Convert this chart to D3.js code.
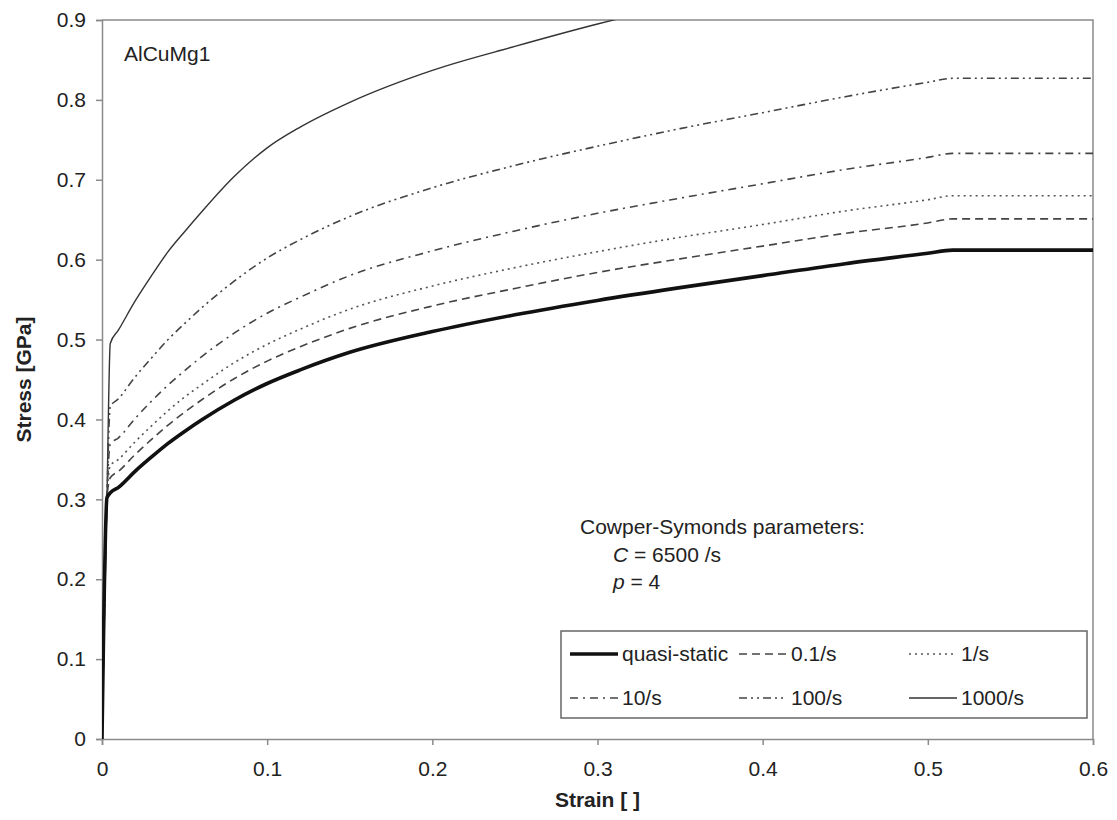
<!DOCTYPE html>
<html>
<head>
<meta charset="utf-8">
<script src="https://cdn.jsdelivr.net/npm/d3@7"></script>
<style>
  body { margin: 0; background: #fff; }
  text { font-family: "Liberation Sans", Arial, sans-serif; fill: #222; }
</style>
</head>
<body>
<script>
// strain points shared by every curve
var strain = [0, 0.003, 0.005, 0.01, 0.02, 0.03, 0.04, 0.05, 0.06, 0.08, 0.1, 0.12, 0.15, 0.2, 0.25, 0.3, 0.35, 0.4, 0.45, 0.5, 0.515, 0.6];

var quasiStatic = [0, 0.302, 0.308, 0.315, 0.335, 0.353, 0.37, 0.385, 0.399, 0.424, 0.445, 0.462, 0.484, 0.51, 0.531, 0.549, 0.565, 0.58, 0.595, 0.608, 0.612, 0.612];
var rate01 = [0, 0.302, 0.327, 0.335, 0.356, 0.375, 0.393, 0.409, 0.424, 0.451, 0.473, 0.491, 0.514, 0.542, 0.564, 0.584, 0.601, 0.617, 0.633, 0.646, 0.651, 0.651];
var rate1 = [0, 0.302, 0.342, 0.35, 0.372, 0.392, 0.411, 0.428, 0.443, 0.471, 0.494, 0.513, 0.538, 0.567, 0.59, 0.61, 0.628, 0.644, 0.661, 0.675, 0.68, 0.68];
var rate10 = [0, 0.302, 0.369, 0.377, 0.401, 0.423, 0.443, 0.461, 0.478, 0.508, 0.533, 0.553, 0.58, 0.611, 0.636, 0.658, 0.677, 0.695, 0.713, 0.728, 0.733, 0.733];
var rate100 = [0, 0.302, 0.416, 0.426, 0.453, 0.477, 0.5, 0.52, 0.539, 0.573, 0.602, 0.625, 0.654, 0.69, 0.718, 0.742, 0.764, 0.784, 0.804, 0.822, 0.827, 0.827];
var rate1000 = [0, 0.302, 0.495, 0.512, 0.548, 0.58, 0.61, 0.635, 0.659, 0.704, 0.74, 0.766, 0.797, 0.837, 0.867, 0.895, 0.92, 0.944, 0.966, 0.985, 0.995, 0.995];

var labels = ['quasi-static', '0.1/s', '1/s', '10/s', '100/s', '1000/s'];
var xTicks = [0, 0.1, 0.2, 0.3, 0.4, 0.5, 0.6];
var yTicks = [0, 0.1, 0.2, 0.3, 0.4, 0.5, 0.6, 0.7, 0.8, 0.9];

var width = 1117,
    height = 820,
    plotL = 102,
    plotR = 1093,
    plotT = 20,
    plotB = 739;

var styles = [
    {width: 3.6, dash: null, color: '#111'},
    {width: 1.6, dash: '8,5', color: '#444'},
    {width: 1.6, dash: '2,4', color: '#555'},
    {width: 1.6, dash: '8,5,2,5', color: '#444'},
    {width: 1.6, dash: '8,4,2,4,2,4', color: '#444'},
    {width: 1.4, dash: null, color: '#333'}
];

var series = [quasiStatic, rate01, rate1, rate10, rate100, rate1000].map(function(vals, i) {
    return {
        name: labels[i],
        style: styles[i],
        points: strain.map(function(s, j) { return [s, vals[j]]; })
    };
});

var x = d3.scaleLinear().domain([0, 0.6]).range([plotL, plotR]);
var y = d3.scaleLinear().domain([0, 0.9]).range([plotB, plotT]);

var svg = d3.select('body').append('svg')
    .attr('width', width)
    .attr('height', height);

svg.append('defs').append('clipPath')
    .attr('id', 'plot')
    .append('rect')
    .attr('x', plotL)
    .attr('y', plotT)
    .attr('width', plotR - plotL)
    .attr('height', plotB - plotT);

// frame (top & right)
svg.append('path')
    .attr('d', 'M' + plotL + ',' + plotT + 'H' + plotR + 'V' + plotB)
    .attr('fill', 'none')
    .attr('stroke', '#8a8a8a')
    .attr('stroke-width', 1.5);

var fmt = function(d) { return d === 0 ? '0' : d3.format('.1f')(d); };

var xAxis = svg.append('g')
    .attr('transform', 'translate(0,' + plotB + ')')
    .call(d3.axisBottom(x).tickValues(xTicks).tickSize(6).tickPadding(16).tickFormat(fmt));

var yAxis = svg.append('g')
    .attr('transform', 'translate(' + plotL + ',0)')
    .call(d3.axisLeft(y).tickValues(yTicks).tickSize(6).tickPadding(10).tickFormat(fmt));

[xAxis, yAxis].forEach(function(g) {
    g.select('.domain').attr('stroke', '#8a8a8a').attr('stroke-width', 1.5);
    g.selectAll('.tick line').attr('stroke', '#8a8a8a').attr('stroke-width', 1.5);
    g.selectAll('.tick text')
        .style('font-family', '"Liberation Sans", Arial, sans-serif')
        .style('font-size', '21px')
        .attr('fill', '#222');
});

var line = d3.line()
    .x(function(d) { return x(d[0]); })
    .y(function(d) { return y(d[1]); })
    .curve(d3.curveMonotoneX);

svg.append('g')
    .attr('clip-path', 'url(#plot)')
    .selectAll('path')
    .data(series.slice().reverse())
    .enter().append('path')
    .attr('d', function(d) { return line(d.points); })
    .attr('fill', 'none')
    .attr('stroke', function(d) { return d.style.color; })
    .attr('stroke-width', function(d) { return d.style.width; })
    .attr('stroke-dasharray', function(d) { return d.style.dash; })
    .attr('stroke-linejoin', 'round');

// titles
svg.append('text')
    .attr('x', (plotL + plotR) / 2)
    .attr('y', 807)
    .attr('text-anchor', 'middle')
    .style('font-size', '21px')
    .style('font-weight', 'bold')
    .text('Strain [ ]');

svg.append('text')
    .attr('transform', 'translate(31,' + ((plotT + plotB) / 2) + ')rotate(-90)')
    .attr('text-anchor', 'middle')
    .style('font-size', '21px')
    .style('font-weight', 'bold')
    .text('Stress [GPa]');

svg.append('text')
    .attr('x', 124)
    .attr('y', 61)
    .style('font-size', '21px')
    .text('AlCuMg1');

// Cowper-Symonds note
var note = svg.append('g').style('font-size', '21px');
note.append('text').attr('x', 580).attr('y', 534).text('Cowper-Symonds parameters:');
var c = note.append('text').attr('x', 613).attr('y', 562);
c.append('tspan').style('font-style', 'italic').text('C');
c.append('tspan').text('  = 6500 /s');
var p = note.append('text').attr('x', 613).attr('y', 589);
p.append('tspan').style('font-style', 'italic').text('p');
p.append('tspan').text('  = 4');

// legend
var legend = svg.append('g');
legend.append('rect')
    .attr('x', 561)
    .attr('y', 631)
    .attr('width', 526)
    .attr('height', 87)
    .attr('fill', '#fff')
    .attr('stroke', '#666')
    .attr('stroke-width', 1.5);

var colX = [570, 739, 909],
    rowY = [654, 698];

var item = legend.selectAll('g.item')
    .data(series)
    .enter().append('g')
    .attr('class', 'item')
    .attr('transform', function(d, i) {
        return 'translate(' + colX[i % 3] + ',' + rowY[Math.floor(i / 3)] + ')';
    });

item.append('line')
    .attr('x1', 0)
    .attr('x2', 48)
    .attr('stroke', function(d) { return d.style.color; })
    .attr('stroke-width', function(d) { return d.style.width; })
    .attr('stroke-dasharray', function(d) { return d.style.dash; });

item.append('text')
    .attr('x', 52)
    .attr('dy', '0.35em')
    .style('font-size', '21px')
    .text(function(d) { return d.name; });
</script>
</body>
</html>
